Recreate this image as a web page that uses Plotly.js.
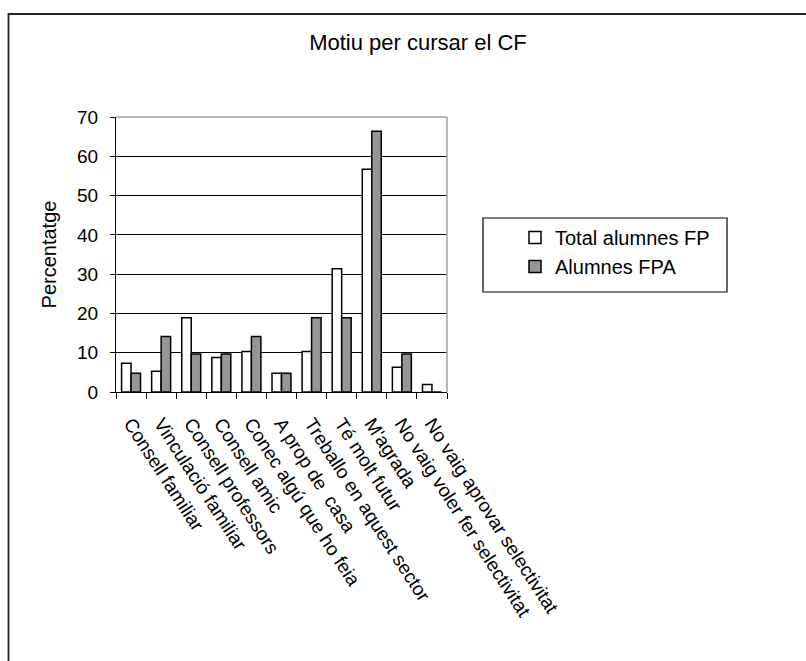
<!DOCTYPE html>
<html>
<head>
<meta charset="utf-8">
<script src="https://cdn.plot.ly/plotly-3.0.1.min.js"></script>
<style>html,body{margin:0;padding:0;background:#fff;}#chart{width:806px;height:661px;}</style>
</head>
<body>
<div id="chart"></div>
<script>
const categories = ["Consell familiar", "Vinculació familiar", "Consell professors", "Consell amic", "Conec algú que ho feia", "A prop de  casa", "Treballo en aquest sector", "Té molt futur", "M'agrada", "No vaig voler fer selectivitat", "No vaig aprovar selectivitat"];
const totalFP = [7.3, 5.3, 18.9, 8.8, 10.3, 4.8, 10.3, 31.4, 56.7, 6.3, 1.9];
const alumnesFPA = [4.8, 14.1, 9.7, 9.7, 14.1, 4.8, 18.9, 18.9, 66.4, 9.7, 0];
const yTicks = [0, 10, 20, 30, 40, 50, 60, 70];

const font = "Liberation Sans, Arial, sans-serif";
const L = 116, R = 447, T = 117, B = 392, W = 806, H = 661;
const pw = R - L, ph = B - T;
const px = x => (x - L) / pw;
const py = y => (B - y) / ph;

const traces = [
  {type: "bar", name: "Total alumnes FP", x: categories, y: totalFP,
   marker: {color: "#ffffff", line: {color: "#000000", width: 1.5}}},
  {type: "bar", name: "Alumnes FPA", x: categories, y: alumnesFPA,
   marker: {color: "#969696", line: {color: "#000000", width: 1.5}}}
];

const layout = {
  width: W, height: H,
  margin: {l: L, r: W - R, t: T, b: H - B, autoexpand: false},
  paper_bgcolor: "#ffffff", plot_bgcolor: "#ffffff",
  font: {family: font, color: "#000000", size: 19},
  title: {text: "Motiu per cursar el CF", x: 418 / W, xref: "container", y: 1 - 42 / H, yref: "container",
          xanchor: "center", yanchor: "middle", font: {family: font, size: 22, color: "#000"}},
  barmode: "group", bargap: 0.37, bargroupgap: 0,
  showlegend: true,
  legend: {x: px(515), y: py(218), xanchor: "left", yanchor: "top", bgcolor: "rgba(0,0,0,0)",
           borderwidth: 0, font: {family: font, size: 20, color: "#000"}, tracegroupgap: 0,
           itemwidth: 30},
  xaxis: {type: "category", showline: true, linecolor: "#000", linewidth: 1,
          ticks: "outside", tickson: "boundaries", ticklen: 6, tickcolor: "#000", tickwidth: 1,
          tickangle: 57, ticklabelstandoff: 12, tickfont: {family: font, size: 19, color: "#000"},
          showgrid: false, automargin: false, fixedrange: true},
  yaxis: {range: [0, 70], tickvals: yTicks, ticktext: yTicks.map(String),
          showline: true, linecolor: "#000", linewidth: 1,
          ticks: "outside", ticklen: 5, tickcolor: "#000", tickwidth: 1, ticklabelstandoff: 8,
          showgrid: true, gridcolor: "#000", gridwidth: 1, zeroline: false,
          tickfont: {family: font, size: 19, color: "#000"},
          title: {text: "Percentatge", font: {family: font, size: 20, color: "#000"}, standoff: 15},
          automargin: false, fixedrange: true},
  shapes: [
    {type: "line", xref: "paper", yref: "paper", x0: 0, x1: 1, y0: 1, y1: 1,
     line: {color: "#a0a0a0", width: 1.5}, layer: "above"},
    {type: "line", xref: "paper", yref: "paper", x0: 1, x1: 1, y0: 0, y1: 1,
     line: {color: "#a0a0a0", width: 1.5}, layer: "above"},
    {type: "rect", xref: "paper", yref: "paper", x0: px(483), x1: px(727), y0: py(292), y1: py(218),
     line: {color: "#000", width: 1.2}, fillcolor: "rgba(0,0,0,0)", layer: "below"},
    {type: "path", xref: "paper", yref: "paper",
     path: "M " + px(8.5) + "," + py(H + 10) + " L " + px(8.5) + "," + py(14) + " L " + px(W + 10) + "," + py(14),
     line: {color: "#222", width: 1.8}, layer: "above"}
  ]
};

Plotly.newPlot("chart", traces, layout, {displayModeBar: false, staticPlot: true});
</script>
</body>
</html>
